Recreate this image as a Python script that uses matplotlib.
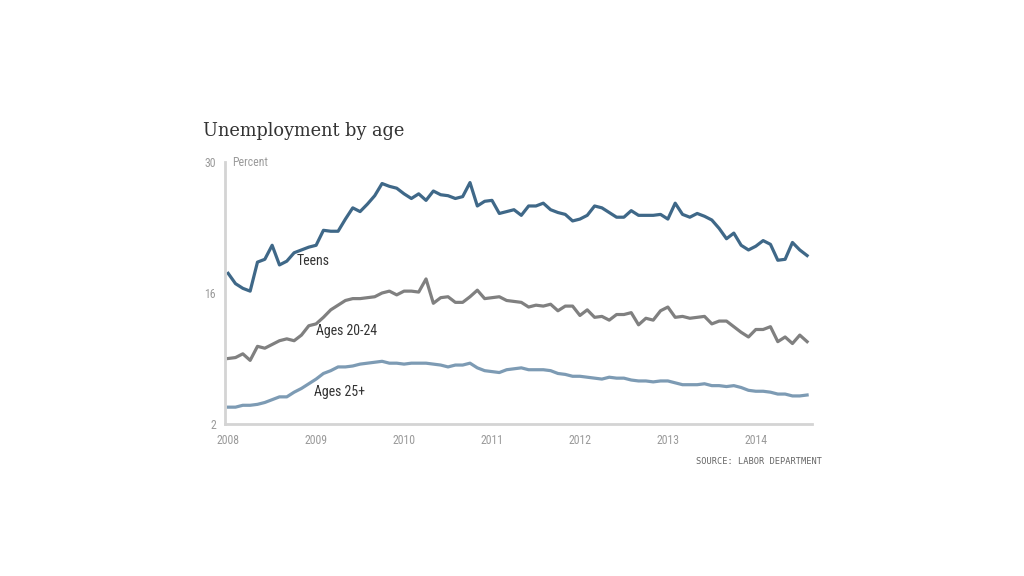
import matplotlib
matplotlib.use("Agg")
import matplotlib.pyplot as plt
from matplotlib import font_manager
from matplotlib.transforms import blended_transform_factory

# monthly values, Jan 2008 - Aug 2014 (percent)
teens = [18.1, 17.0, 16.5, 16.2, 19.3, 19.6, 21.1, 19.0, 19.4, 20.3, 20.6, 20.9,
         21.1, 22.7, 22.6, 22.6, 23.9, 25.1, 24.7, 25.5, 26.4, 27.7, 27.4, 27.2,
         26.6, 26.1, 26.6, 25.9, 26.9, 26.5, 26.4, 26.1, 26.3, 27.8, 25.3, 25.8,
         25.9, 24.5, 24.7, 24.9, 24.3, 25.3, 25.3, 25.6, 24.9, 24.6, 24.4, 23.7,
         23.9, 24.3, 25.3, 25.1, 24.6, 24.1, 24.1, 24.8, 24.3, 24.3, 24.3, 24.4,
         23.9, 25.6, 24.4, 24.1, 24.5, 24.2, 23.8, 22.9, 21.8, 22.4, 21.1, 20.6,
         21.0, 21.6, 21.2, 19.5, 19.6, 21.4, 20.6, 20.0]
ages_20_24 = [9.0, 9.1, 9.5, 8.8, 10.3, 10.1, 10.5, 10.9, 11.1, 10.9, 11.5, 12.5,
              12.7, 13.4, 14.2, 14.7, 15.2, 15.4, 15.4, 15.5, 15.6, 16.0, 16.2, 15.8,
              16.2, 16.2, 16.1, 17.5, 14.9, 15.5, 15.6, 15.0, 15.0, 15.6, 16.3, 15.4,
              15.5, 15.6, 15.2, 15.1, 15.0, 14.5, 14.7, 14.6, 14.8, 14.1, 14.6, 14.6,
              13.6, 14.2, 13.4, 13.5, 13.1, 13.7, 13.7, 13.9, 12.6, 13.3, 13.1, 14.1,
              14.5, 13.4, 13.5, 13.3, 13.4, 13.5, 12.7, 13.0, 13.0, 12.4, 11.8, 11.3,
              12.1, 12.1, 12.4, 10.8, 11.3, 10.6, 11.5, 10.8]
ages_25 = [3.8, 3.8, 4.0, 4.0, 4.1, 4.3, 4.6, 4.9, 4.9, 5.4, 5.8, 6.3,
           6.8, 7.4, 7.7, 8.1, 8.1, 8.2, 8.4, 8.5, 8.6, 8.7, 8.5, 8.5,
           8.4, 8.5, 8.5, 8.5, 8.4, 8.3, 8.1, 8.3, 8.3, 8.5, 8.0, 7.7,
           7.6, 7.5, 7.8, 7.9, 8.0, 7.8, 7.8, 7.8, 7.7, 7.4, 7.3, 7.1,
           7.1, 7.0, 6.9, 6.8, 7.0, 6.9, 6.9, 6.7, 6.6, 6.6, 6.5, 6.6,
           6.6, 6.4, 6.2, 6.2, 6.2, 6.3, 6.1, 6.1, 6.0, 6.1, 5.9, 5.6,
           5.5, 5.5, 5.4, 5.2, 5.2, 5.0, 5.0, 5.1]
years = ["2008", "2009", "2010", "2011", "2012", "2013", "2014"]
y_ticks = [2, 16, 30]

# prefer a condensed face if one is around
installed = {f.name for f in font_manager.fontManager.ttflist}
narrow = "Liberation Sans"
for name in ["Liberation Sans Narrow", "Roboto Condensed", "Open Sans Condensed",
             "Arial Narrow", "DejaVu Sans Condensed"]:
    if name in installed:
        narrow = name
        break
plt.rcParams["font.family"] = [narrow, "DejaVu Sans"]
label_size = 10 if narrow != "Liberation Sans" else 9

months = list(range(len(teens)))

fig = plt.figure(figsize=(10.24, 5.76), dpi=100)
ax = fig.add_axes([224.5 / 1024, 1 - 424 / 576, 587 / 1024, 262 / 576])

ax.plot(months, ages_25, color="#7d9bb4", lw=2.3, solid_joinstyle="round")
ax.plot(months, ages_20_24, color="#808080", lw=2.3, solid_joinstyle="round")
ax.plot(months, teens, color="#3f6888", lw=2.3, solid_joinstyle="round")

ax.set_xlim(-0.5, 79.6)
ax.set_ylim(2, 30)
ax.set_xticks([12 * i for i in range(len(years))])
ax.set_xticklabels(years)
ax.set_yticks(y_ticks)
ax.set_yticklabels([str(v) for v in y_ticks])
ax.tick_params(axis="both", length=0, labelsize=8.5, labelcolor="#9a9a9a")
ax.tick_params(axis="x", pad=7)
ax.tick_params(axis="y", pad=6)
ax.set_yticks([30], minor=True)
ax.tick_params(axis="y", which="minor", length=8, direction="inout",
               color="#999999", width=1.2)

for s in ["top", "right"]:
    ax.spines[s].set_visible(False)
for s in ["left", "bottom"]:
    ax.spines[s].set_color("#d4d4d4")
    ax.spines[s].set_linewidth(2)

trans = blended_transform_factory(ax.transAxes, ax.transData)
ax.text(0.013, 30, "Percent", transform=trans, ha="left", va="center",
        fontsize=8.5, color="#9a9a9a")

ax.text(9.3, 19.4, "Teens", ha="left", va="center", fontsize=label_size, color="#333333")
ax.text(12.0, 11.9, "Ages 20-24", ha="left", va="center", fontsize=label_size, color="#333333")
ax.text(11.7, 5.4, "Ages 25+", ha="left", va="center", fontsize=label_size, color="#333333")

fig.text(203 / 1024, 1 - 131 / 576, "Unemployment by age", ha="left", va="center",
         fontsize=12.8, color="#333333", family="DejaVu Serif")
fig.text(822 / 1024, 1 - 462 / 576, "SOURCE: LABOR DEPARTMENT", ha="right", va="center",
         fontsize=6.2, color="#666666", family="DejaVu Sans Mono")

fig.savefig("out.png", dpi=100)
